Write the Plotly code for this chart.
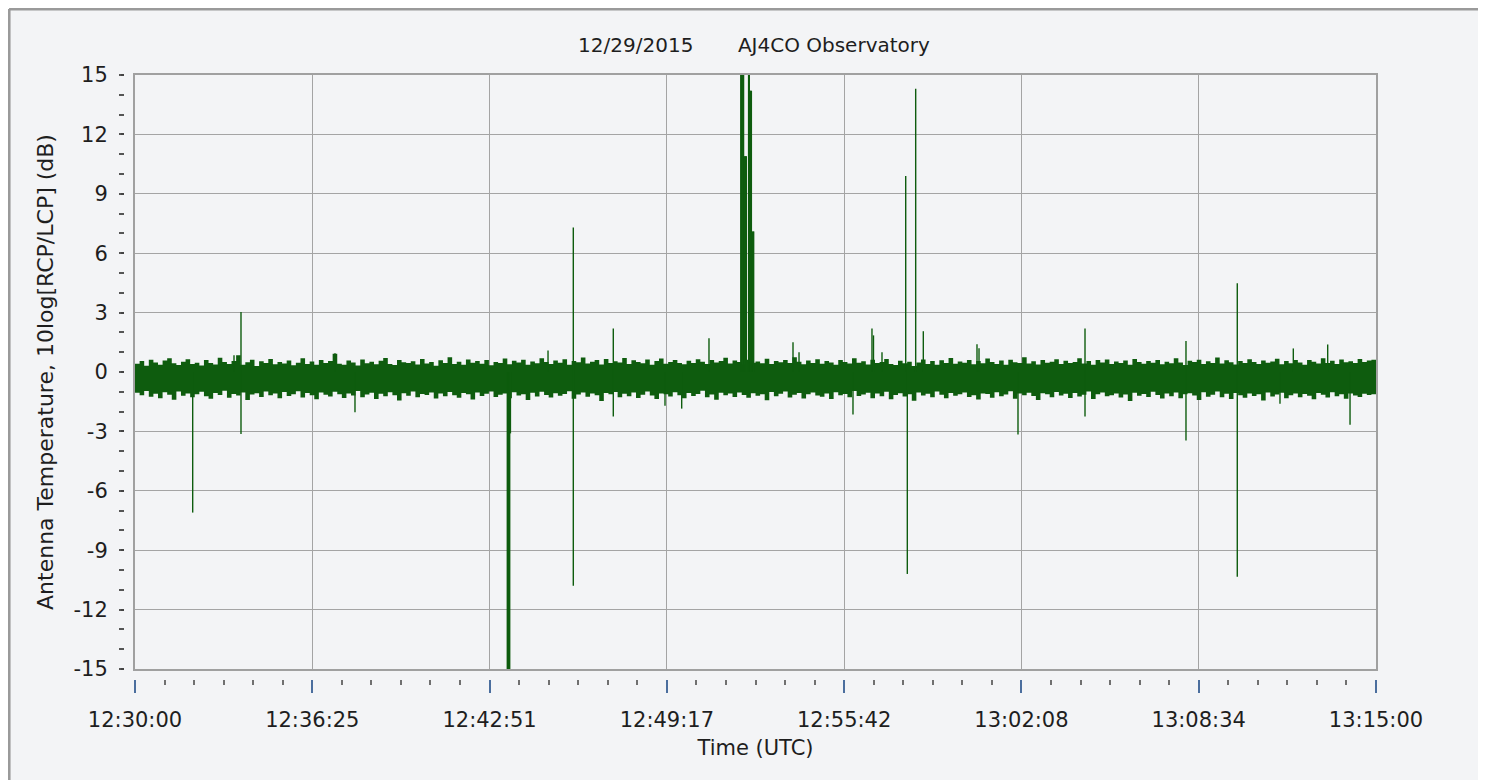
import plotly.graph_objects as go
from datetime import datetime, timedelta

# ---------------- data ----------------
START = datetime(2015, 12, 29, 12, 30, 0)
END = datetime(2015, 12, 29, 13, 15, 0)
BIN_SEC = 10  # width of one envelope bin of the noise band (s)

# upper envelope of the noise band per 10 s bin (dB)
band_hi = [
    0.42, 0.55, 0.31, 0.62, 0.48, 0.37, 0.58, 0.70, 0.44, 0.35, 0.52, 0.64, 0.40, 0.47, 0.33,
    0.60, 0.45, 0.38, 0.72, 0.50, 0.41, 0.56, 0.85, 0.36, 0.49, 0.62, 0.30, 0.54, 0.45, 0.66,
    0.39, 0.51, 0.43, 0.58, 0.34, 0.47, 0.69, 0.40, 0.53, 0.36, 0.61, 0.46, 0.55, 0.92, 0.42,
    0.37, 0.58, 0.48, 0.33, 0.63, 0.44, 0.52, 0.39, 0.57, 0.71, 0.41, 0.35, 0.60, 0.49, 0.45,
    0.54, 0.38, 0.66, 0.43, 0.50, 0.31, 0.59, 0.46, 0.74, 0.40, 0.52, 0.36, 0.63, 0.47, 0.55,
    0.42, 0.60, 0.34, 0.51, 0.45, 0.68, 0.39, 0.57, 0.48, 0.62, 0.37, 0.53, 0.44, 0.70, 0.50,
    0.41, 0.58, 0.47, 0.64, 0.36, 0.55, 0.49, 0.73, 0.43, 0.52, 0.60, 0.38, 0.66, 0.45, 0.54,
    0.48, 0.71, 0.40, 0.59, 0.51, 0.44, 0.63, 0.37, 0.56, 0.68, 0.42, 0.50, 0.61, 0.46, 0.39,
    0.57, 0.45, 0.65, 0.52, 0.41, 0.60, 0.48, 0.55, 0.72, 0.43, 0.58, 0.50, 0.38, 0.62, 0.47,
    0.53, 0.44, 0.67, 0.40, 0.56, 0.49, 0.61, 0.45, 0.75, 0.52, 0.39, 0.58, 0.46, 0.64, 0.42,
    0.55, 0.48, 0.36, 0.60, 0.51, 0.43, 0.69, 0.47, 0.54, 0.38, 0.62, 0.45, 0.50, 0.66, 0.41,
    0.35, 0.57, 0.44, 0.52, 0.30, 0.48, 0.63, 0.40, 0.55, 0.37, 0.59, 0.46, 0.71, 0.42, 0.53,
    0.47, 0.60, 0.39, 0.56, 0.44, 0.68, 0.51, 0.41, 0.58, 0.36, 0.62, 0.49, 0.45, 0.74, 0.43,
    0.54, 0.38, 0.61, 0.47, 0.52, 0.65, 0.40, 0.57, 0.46, 0.50, 0.70, 0.43, 0.55, 0.37, 0.60,
    0.48, 0.63, 0.41, 0.53, 0.45, 0.58, 0.36, 0.66, 0.50, 0.42, 0.56, 0.47, 0.61, 0.39, 0.52,
    0.44, 0.69, 0.48, 0.35, 0.57, 0.51, 0.62, 0.40, 0.54, 0.46, 0.73, 0.43, 0.59, 0.49, 0.38,
    0.56, 0.45, 0.64, 0.50, 0.41, 0.58, 0.47, 0.53, 0.67, 0.39, 0.55, 0.44, 0.61, 0.48, 0.36,
    0.60, 0.52, 0.43, 0.70, 0.46, 0.57, 0.40, 0.63, 0.49, 0.54, 0.45, 0.66, 0.51, 0.58, 0.62,
]

# lower envelope of the noise band per 10 s bin (dB)
band_lo = [
    -1.05, -1.18, -0.96, -1.25, -1.10, -1.32, -1.02, -1.15, -1.40, -0.98, -1.20, -1.08, -1.28, -1.12, -1.00,
    -1.22, -1.35, -1.06, -1.16, -0.95, -1.30, -1.11, -1.19, -1.03, -1.42, -1.14, -1.07, -1.26, -0.99, -1.17,
    -1.09, -1.33, -1.01, -1.21, -1.13, -0.97, -1.29, -1.06, -1.18, -1.38, -1.04, -1.15, -1.24, -1.00, -1.12,
    -1.31, -1.08, -1.19, -0.96, -1.27, -1.14, -1.05, -1.36, -1.10, -1.22, -1.02, -1.17, -1.44, -1.07, -1.20,
    -0.99, -1.28, -1.11, -1.16, -1.03, -1.34, -1.09, -1.23, -1.01, -1.18, -1.30, -1.06, -1.13, -1.39, -1.04,
    -1.21, -1.10, -0.98, -1.26, -1.15, -1.08, -1.32, -1.02, -1.19, -1.12, -1.41, -1.05, -1.24, -1.00, -1.16,
    -1.29, -1.07, -1.20, -1.11, -0.97, -1.35, -1.14, -1.03, -1.25, -1.09, -1.18, -1.46, -1.06, -1.13, -1.01,
    -1.27, -1.10, -1.22, -1.04, -1.31, -1.15, -0.99, -1.19, -1.37, -1.08, -1.12, -1.24, -1.02, -1.17, -1.33,
    -1.06, -1.21, -1.11, -0.95, -1.28, -1.14, -1.40, -1.05, -1.18, -1.09, -1.26, -1.03, -1.16, -1.30, -1.07,
    -1.20, -1.12, -1.43, -1.01, -1.23, -1.10, -0.98, -1.29, -1.15, -1.06, -1.34, -1.13, -1.04, -1.19, -1.25,
    -1.08, -1.36, -1.02, -1.17, -1.11, -1.27, -0.96, -1.21, -1.14, -1.05, -1.32, -1.09, -1.22, -1.00, -1.38,
    -1.16, -1.07, -1.24, -1.12, -1.45, -1.03, -1.19, -1.10, -1.28, -0.99, -1.15, -1.33, -1.06, -1.20, -1.13,
    -1.04, -1.26, -1.18, -1.39, -1.08, -1.11, -1.30, -1.02, -1.23, -1.14, -0.97, -1.35, -1.09, -1.17, -1.05,
    -1.21, -1.42, -1.07, -1.13, -1.27, -1.01, -1.19, -1.10, -1.31, -1.06, -1.24, -1.15, -0.98, -1.37, -1.12,
    -1.03, -1.22, -1.18, -1.08, -1.29, -1.14, -1.47, -1.05, -1.20, -1.11, -1.26, -1.00, -1.16, -1.34, -1.09,
    -1.23, -1.04, -1.32, -1.13, -1.07, -1.19, -1.41, -1.02, -1.25, -1.15, -0.99, -1.28, -1.10, -1.36, -1.06,
    -1.17, -1.30, -1.08, -1.21, -1.12, -1.44, -1.03, -1.24, -1.14, -1.05, -1.33, -1.18, -1.09, -1.27, -1.11,
    -1.20, -1.38, -1.06, -1.15, -1.29, -1.02, -1.22, -1.13, -1.35, -1.08, -1.19, -1.26, -1.10, -1.16, -1.12,
]

# isolated spikes: seconds after 12:30:00, top value, bottom value (0 = stays in band)
spike_sec = [125.5, 215.4, 230.6, 435.1, 478.6,
             810.0, 811.3, 812.6, 813.9, 815.2, 816.8,
             898.6, 953.6, 1040.6, 1153.1, 1189.4, 1248.8,
             1318.0, 1319.5, 1321.0, 1322.5, 1324.0, 1325.5, 1327.0, 1328.5, 1330.0,
             1335.0, 1336.5, 1338.0, 1339.5, 1341.0, 1343.0, 1344.5, 1346.0,
             1431.6, 1444.7, 1562.1, 1603.4, 1606.7, 1625.2, 1676.8, 1680.3, 1698.5, 1715.1,
             1831.9, 1836.3, 1921.1, 2066.9, 2286.6, 2398.2, 2491.1, 2520.1, 2594.9, 2643.5]
spike_top = [0, 0.85, 3.03, 0.95, 0,
             0, 0, 0, 0, 0, 0,
             1.08, 7.3, 2.2, 0, 0, 1.7,
             15, 15, 15, 15, 15, 10.9, 10.9, 10.9, 10.9,
             15, 15, 14.2, 14.2, 14.2, 7.1, 7.1, 7.1,
             1.5, 1.0, 0, 2.2, 1.85, 1.0, 9.9, 0, 14.3, 2.06,
             1.4, 1.2, 0, 2.2, 1.56, 4.48, 0, 1.19, 1.39, 0]
spike_bot = [-7.1, 0, -3.13, 0, -2.03,
             -15, -15, -15, -15, -15, -3.1,
             0, -10.8, -2.25, -1.7, -1.85, 0,
             0, 0, 0, 0, 0, 0, 0, 0, 0,
             0, 0, 0, 0, 0, 0, 0, 0,
             0, 0, -2.15, 0, 0, 0, 0, -10.2, 0, 0,
             0, 0, -3.16, -2.25, -3.46, -10.34, -1.6, 0, 0, -2.66]

TITLE = "12/29/2015" + "\u00a0" * 7 + "AJ4CO Observatory"
Y_TITLE = "Antenna Temperature, 10log[RCP/LCP] (dB)"
X_TITLE = "Time (UTC)"
Y_RANGE = [-15, 15]
Y_TICK_VALUES = [15, 12, 9, 6, 3, 0, -3, -6, -9, -12, -15]
Y_TICK_LABELS = ["15", "12", "9", "6", "3", "0", "-3", "-6", "-9", "-12", "-15"]
Y_MINOR = 1
X_MAJOR_COUNT = 7
X_MINOR_PER_MAJOR = 6

# ---------------- build ----------------
GREEN = "#0e5c0e"
band_t = [START + timedelta(seconds=BIN_SEC * i) for i in range(len(band_hi) + 1)]
hi_ext = band_hi + [band_hi[-1]]
lo_ext = band_lo + [band_lo[-1]]

sx, sy = [], []
for s, top, bot in zip(spike_sec, spike_top, spike_bot):
    t = START + timedelta(seconds=s)
    sx += [t, t, None]
    sy += [bot, top, None]

major_ms = (END - START).total_seconds() * 1000.0 / X_MAJOR_COUNT

fig = go.Figure()
fig.add_trace(go.Scatter(x=band_t, y=hi_ext, mode="lines", line=dict(width=0, shape="hv", color=GREEN),
                         hoverinfo="skip", showlegend=False))
fig.add_trace(go.Scatter(x=band_t, y=lo_ext, mode="lines", line=dict(width=0, shape="hv", color=GREEN),
                         fill="tonexty", fillcolor=GREEN, hoverinfo="skip", showlegend=False))
# spikes drawn on the overlaid (tick-bearing) axes, which share the same ranges
fig.add_trace(go.Scatter(x=sx, y=sy, xaxis="x2", yaxis="y2", mode="lines",
                         line=dict(width=1.4, color=GREEN),
                         hoverinfo="skip", showlegend=False, connectgaps=False))

BG = "#f3f4f6"
XDOM = [0.00879, 1]
YDOM = [0.01656, 1]
FONT = "DejaVu Sans"
TXT = "#1e1e1e"

# the page body has an 8 px margin, so the figure is 8 px smaller than the window
fig.update_layout(
    width=1478, height=772,
    margin=dict(l=116, r=110, t=67, b=101, pad=0),
    paper_bgcolor="white", plot_bgcolor=BG,
    font=dict(family=FONT, color=TXT, size=18),
    showlegend=False,
    title=dict(text=TITLE, x=0.5032, xref="paper", xanchor="center",
               y=1 - 37 / 772, yref="container", yanchor="middle",
               font=dict(family=FONT, size=20, color=TXT)),
    xaxis=dict(domain=XDOM, anchor="y", type="date", range=[START, END],
               tick0=START, dtick=major_ms, showgrid=True, gridcolor="#a4a4a4", gridwidth=1,
               showticklabels=False, ticks="", zeroline=False,
               showline=True, linecolor="#a0a0a0", linewidth=1.5, mirror=True),
    xaxis2=dict(domain=XDOM, overlaying="x", anchor="free", position=0, type="date",
                range=[START, END], tick0=START, dtick=major_ms, tickformat="%H:%M:%S",
                ticks="outside", ticklen=13, tickwidth=1.5, tickcolor="#4b6e9e",
                minor=dict(dtick=major_ms / X_MINOR_PER_MAJOR, ticks="outside", ticklen=5,
                           tickwidth=1.5, tickcolor="#707070", showgrid=False),
                showgrid=False, zeroline=False, showline=False,
                tickfont=dict(family=FONT, size=21, color=TXT), ticklabelstandoff=9,
                title=dict(text=X_TITLE, font=dict(family=FONT, size=21, color=TXT), standoff=9)),
    yaxis=dict(domain=YDOM, anchor="x", range=Y_RANGE, tickvals=Y_TICK_VALUES,
               showgrid=True, gridcolor="#a4a4a4", gridwidth=1, showticklabels=False, ticks="",
               zeroline=False, showline=True, linecolor="#a0a0a0", linewidth=1.5, mirror=True),
    yaxis2=dict(domain=YDOM, overlaying="y", anchor="free", position=0, side="left",
                range=Y_RANGE, tickvals=Y_TICK_VALUES, ticktext=Y_TICK_LABELS,
                ticks="outside", ticklen=3, tickwidth=2, tickcolor="#444444",
                minor=dict(dtick=Y_MINOR, tick0=0, ticks="outside", ticklen=5, tickwidth=1.5,
                           tickcolor="#555555", showgrid=False),
                showgrid=False, zeroline=False, showline=False,
                tickfont=dict(family=FONT, size=21, color=TXT), ticklabelstandoff=9,
                title=dict(text=Y_TITLE, font=dict(family=FONT, size=22, color=TXT), standoff=12)),
    shapes=[
        dict(type="rect", xref="paper", yref="paper", x0=-0.0918, x1=1.0847, y0=-0.2, y1=1.1093,
             line=dict(width=0), fillcolor=BG, layer="below"),
        dict(type="line", xref="paper", yref="paper", x0=-0.0918, x1=1.0847, y0=1.1093, y1=1.1093,
             line=dict(color="#9a9a9a", width=3)),
        dict(type="line", xref="paper", yref="paper", x0=-0.0918, x1=-0.0918, y0=-0.2, y1=1.1093,
             line=dict(color="#9a9a9a", width=3)),
        dict(type="line", xref="paper", yref="paper", x0=1.0847, x1=1.0847, y0=-0.2, y1=1.1093,
             line=dict(color="#c4c4c4", width=2)),
    ],
)

fig.write_html("out.html")
